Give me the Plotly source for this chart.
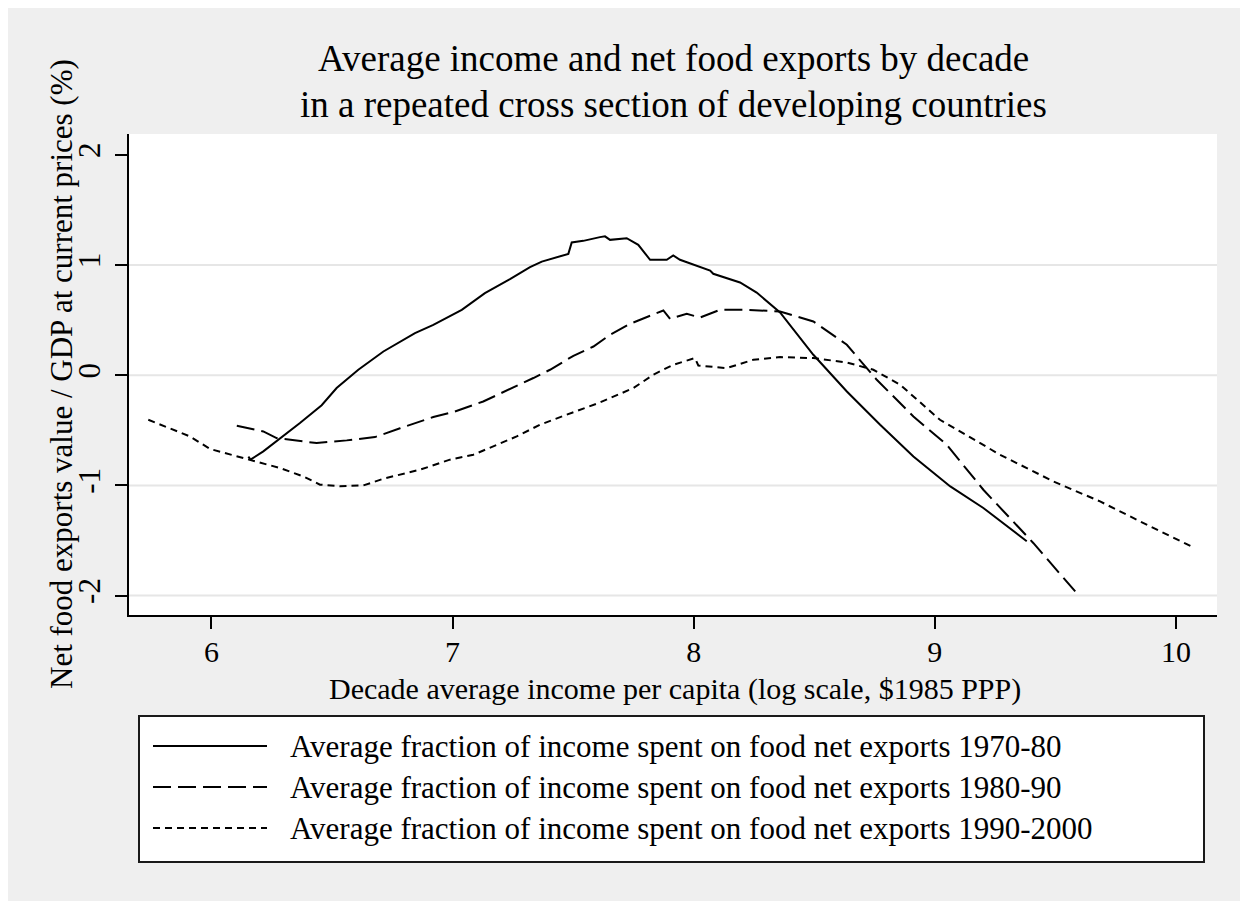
import plotly.graph_objects as go

# ---------------- data ----------------
series_names = [
    "Average fraction of income spent on food net exports 1970-80",
    "Average fraction of income spent on food net exports 1980-90",
    "Average fraction of income spent on food net exports 1990-2000",
]

x_7080 = [6.153, 6.162, 6.215, 6.367, 6.457, 6.519, 6.609, 6.713, 6.844, 6.920, 7.038, 7.134,
          7.238, 7.321, 7.370, 7.432, 7.480, 7.494, 7.542, 7.611, 7.632, 7.653, 7.722, 7.770,
          7.819, 7.888, 7.915, 7.943, 8.068, 8.081, 8.192, 8.261, 8.358, 8.496, 8.635, 8.773,
          8.911, 9.064, 9.201, 9.381]
y_7080 = [-0.739, -0.766, -0.691, -0.434, -0.272, -0.116, 0.050, 0.216, 0.383, 0.458, 0.594, 0.746,
          0.873, 0.981, 1.032, 1.072, 1.102, 1.205, 1.220, 1.254, 1.261, 1.229, 1.244, 1.184,
          1.048, 1.048, 1.087, 1.048, 0.951, 0.921, 0.842, 0.751, 0.570, 0.186, -0.147, -0.449,
          -0.737, -1.009, -1.205, -1.507]

x_8090 = [6.105, 6.215, 6.270, 6.326, 6.436, 6.561, 6.678, 6.782, 6.920, 7.003, 7.127, 7.335,
          7.404, 7.501, 7.584, 7.653, 7.736, 7.819, 7.874, 7.902, 7.971, 8.026, 8.109, 8.220,
          8.358, 8.496, 8.635, 8.676, 8.759, 8.911, 9.049, 9.201, 9.408, 9.595]
y_8090 = [-0.458, -0.510, -0.570, -0.585, -0.615, -0.591, -0.561, -0.481, -0.379, -0.334, -0.238, -0.025,
          0.050, 0.177, 0.261, 0.367, 0.467, 0.540, 0.588, 0.512, 0.558, 0.524, 0.594, 0.594,
          0.579, 0.488, 0.277, 0.171, -0.041, -0.374, -0.630, -1.039, -1.522, -1.995]

x_9000 = [5.738, 5.911, 5.994, 6.160, 6.284, 6.381, 6.450, 6.533, 6.630, 6.713, 6.865, 6.989,
          7.086, 7.266, 7.362, 7.473, 7.611, 7.750, 7.832, 7.915, 8.005, 8.019, 8.137, 8.247,
          8.358, 8.496, 8.635, 8.745, 8.856, 9.021, 9.270, 9.491, 9.685, 9.906, 10.075]
y_9000 = [-0.404, -0.555, -0.669, -0.766, -0.842, -0.918, -0.993, -1.007, -1.000, -0.939, -0.857, -0.766,
          -0.721, -0.555, -0.449, -0.358, -0.247, -0.116, 0.005, 0.095, 0.156, 0.089, 0.065, 0.141,
          0.165, 0.156, 0.116, 0.050, -0.086, -0.404, -0.721, -0.963, -1.145, -1.386, -1.565]

x_ticks = [6, 7, 8, 9, 10]
y_ticks = [-2, -1, 0, 1, 2]
y_grid = [-2, -1, 0, 1]

title_lines = ["Average income and net food exports by decade",
               "in a repeated cross section of developing countries"]
x_title = "Decade average income per capita (log scale, $1985 PPP)"
y_title = "Net food exports value / GDP at current prices (%)"

# ---------------- layout geometry ----------------
W, H = 1248, 901
OFF = 8  # page body margin
ML, MT = 129 - OFF, 134 - OFF
MR = W - (1217 - OFF)
MB = H - (615 - OFF)
PW, PH = W - ML - MR, H - MT - MB
FONT = "Liberation Serif, Times New Roman, serif"


def xp(px):  # screenshot px -> paper
    return (px - OFF - ML) / PW


def yp(py):
    return (H - MB - (py - OFF)) / PH


dashes = ["solid", "18px,7px", "7px,5px"]
xs = [x_7080, x_8090, x_9000]
ys = [y_7080, y_8090, y_9000]

fig = go.Figure()
for name, x, y, d in zip(series_names, xs, ys, dashes):
    fig.add_trace(go.Scatter(x=x, y=y, mode="lines", name=name,
                             line=dict(color="black", width=2, dash=d),
                             showlegend=False))

shapes = []
for g in y_grid:
    shapes.append(dict(type="line", xref="paper", yref="y", x0=0, x1=1, y0=g, y1=g,
                       line=dict(color="#e6e6e6", width=2), layer="below"))

# legend box (Stata style)
shapes.append(dict(type="rect", xref="paper", yref="paper", x0=xp(139), x1=xp(1204),
                   y0=yp(862), y1=yp(716), fillcolor="white",
                   line=dict(color="#1a1a1a", width=2), layer="above"))
row_y = [746, 787, 828]
annotations = []
for name, d, ry in zip(series_names, dashes, row_y):
    shapes.append(dict(type="line", xref="paper", yref="paper", x0=xp(153), x1=xp(267),
                       y0=yp(ry), y1=yp(ry), line=dict(color="black", width=2, dash=d),
                       layer="above"))
    annotations.append(dict(text=name, xref="paper", yref="paper", x=xp(288), y=yp(ry),
                            xanchor="left", yanchor="middle", showarrow=False,
                            font=dict(family=FONT, size=31, color="black")))

for line, cy in zip(title_lines, [59, 104]):
    annotations.append(dict(text=line, xref="paper", yref="paper", x=xp(673), y=yp(cy),
                            xanchor="center", yanchor="middle", showarrow=False,
                            font=dict(family=FONT, size=37, color="black")))
annotations.append(dict(text=x_title, xref="paper", yref="paper", x=xp(675), y=yp(689),
                        xanchor="center", yanchor="middle", showarrow=False,
                        font=dict(family=FONT, size=30, color="black")))
annotations.append(dict(text=y_title, xref="paper", yref="paper", x=xp(61), y=yp(374),
                        xanchor="center", yanchor="middle", showarrow=False, textangle=-90,
                        font=dict(family=FONT, size=31, color="black")))

fig.update_layout(
    width=W, height=H,
    margin=dict(l=ML, r=MR, t=MT, b=MB, pad=0),
    paper_bgcolor="#efefef", plot_bgcolor="white",
    shapes=shapes, annotations=annotations,
    showlegend=False,
    font=dict(family=FONT, size=31, color="black"),
)
fig.update_xaxes(range=[5.658, 10.170], tickvals=x_ticks, ticktext=[str(v) for v in x_ticks],
                 showgrid=False, zeroline=False, showline=True, linecolor="black", linewidth=2,
                 ticks="outside", ticklen=12, tickwidth=2, tickcolor="black",
                 ticklabelstandoff=-3,
                 tickfont=dict(family=FONT, size=30, color="black"))
fig.update_yaxes(range=[-2.176, 2.19], tickvals=y_ticks, ticktext=[str(v) for v in y_ticks],
                 showgrid=False, zeroline=False, showline=True, linecolor="black", linewidth=2,
                 ticks="outside", ticklen=12, tickwidth=2, tickcolor="black", tickangle=-90,
                 ticklabelstandoff=3,
                 tickfont=dict(family=FONT, size=31, color="black"))

fig.write_html("out.html")
